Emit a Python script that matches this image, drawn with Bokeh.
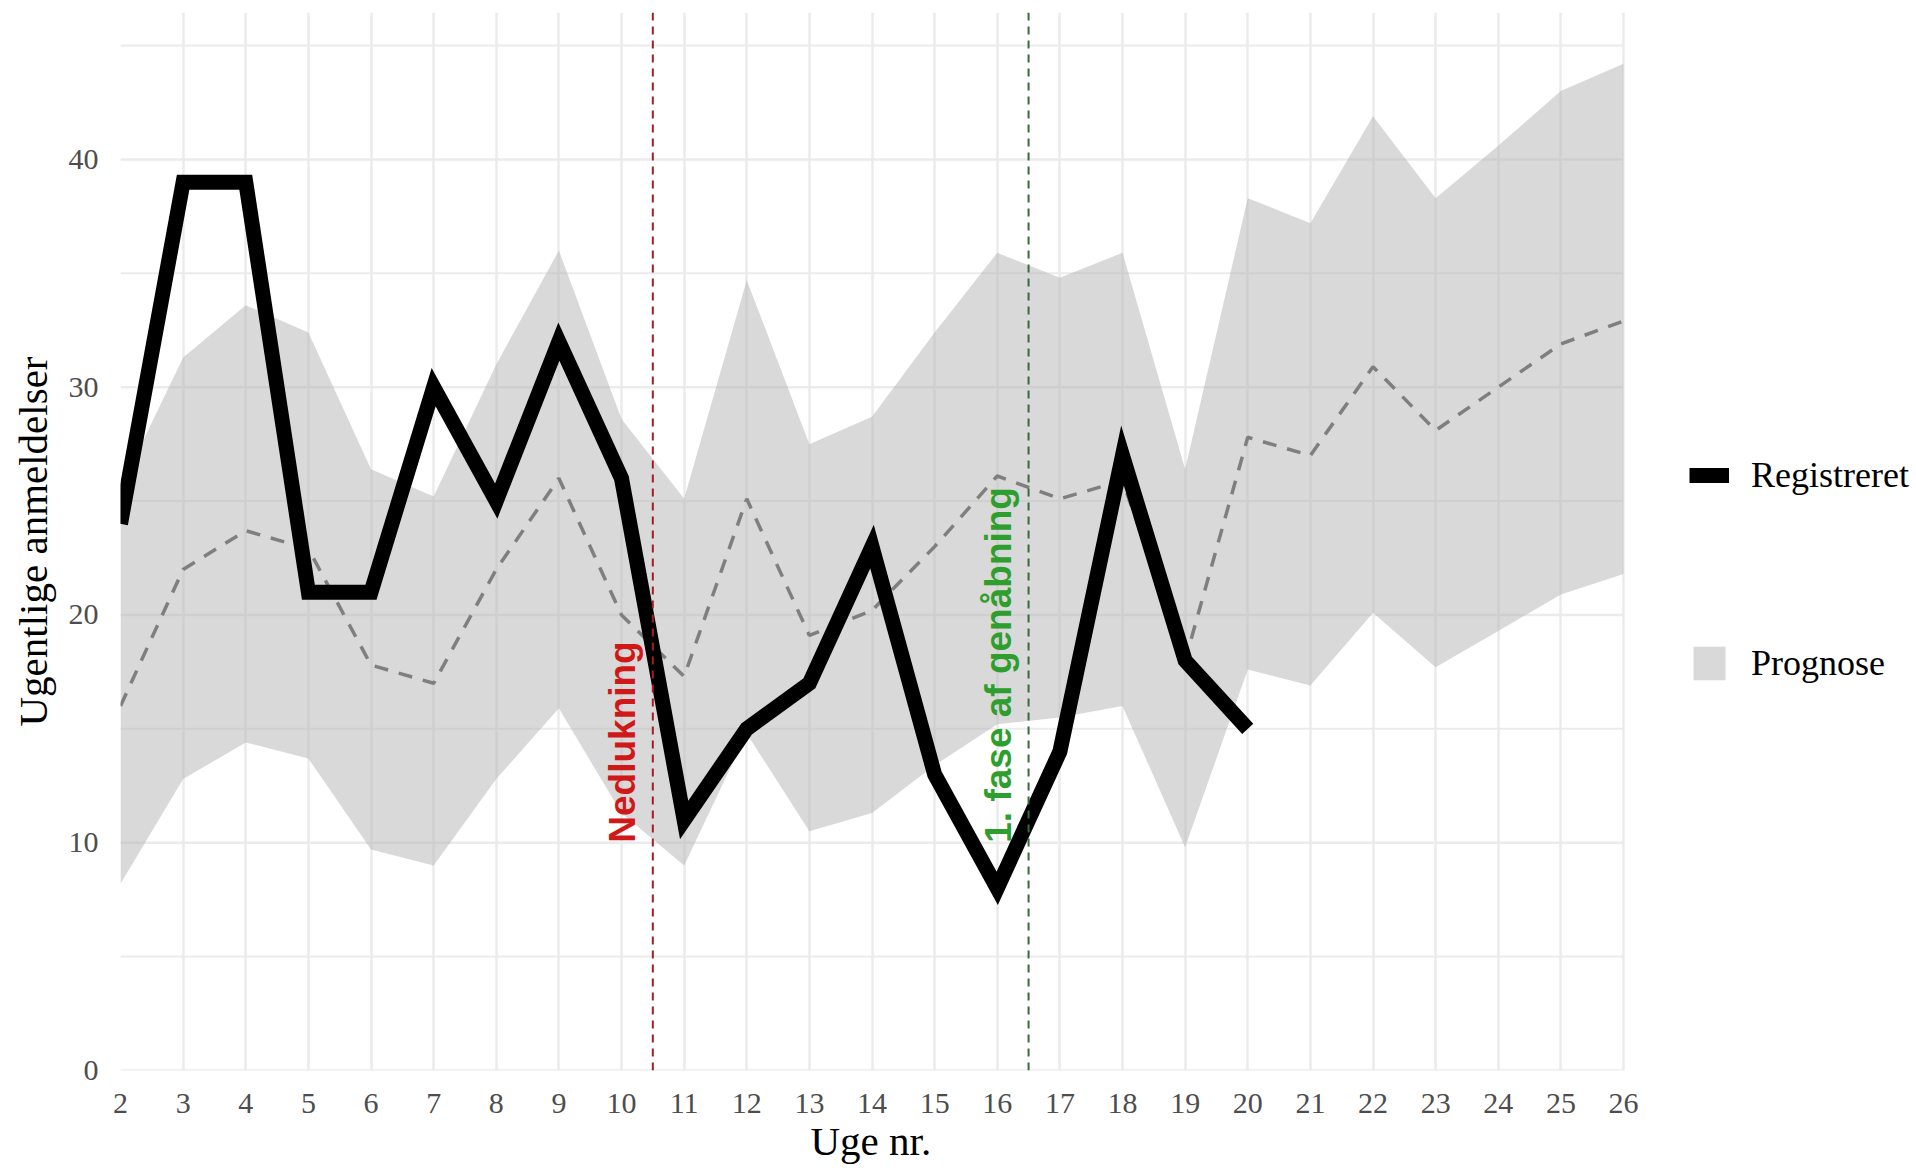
from bokeh.plotting import figure
from bokeh.models import (ColumnDataSource, FixedTicker, Legend, LegendItem,
                          Span, Range1d, Title)
from bokeh.transform import dodge
from bokeh.core.properties import value
from bokeh.embed import file_html
from bokeh.resources import INLINE
import math

# ---------------- data ----------------
weeks_reg = [2, 3, 4, 5, 6, 7, 8, 9, 10, 11, 12, 13, 14, 15, 16, 17, 18, 19, 20]
registreret = [24, 39, 39, 21, 21, 30, 25, 32, 26, 11, 15, 17, 23, 13, 8, 14, 27, 18, 15]

weeks_prog = [2, 3, 4, 5, 6, 7, 8, 9, 10, 11, 12, 13, 14, 15, 16, 17, 18, 19, 20,
              21, 22, 23, 24, 25, 26]
prognose = [16, 22, 23.7, 22.9, 17.8, 17.0, 22, 26, 20, 17.3, 25.1, 19.1, 20.2, 23,
            26.1, 25.1, 25.9, 18, 27.8, 27.0, 30.9, 28.1, 30.0, 31.9, 32.9]
prog_upper = [25.6, 31.3, 33.6, 32.4, 26.4, 25.2, 31, 36, 28.6, 25.1, 34.7, 27.5,
              28.7, 32.4, 35.9, 34.8, 35.9, 26.4, 38.3, 37.2, 41.9, 38.3, 40.6, 43.0, 44.2]
prog_lower = [8.2, 12.8, 14.4, 13.7, 9.7, 9.0, 12.8, 15.9, 11.3, 9.0, 14.8, 10.5,
              11.3, 13.4, 15.2, 15.5, 16.0, 9.8, 17.6, 16.9, 20.1, 17.7, 19.3, 20.9, 21.8]

x_ticks = list(range(2, 27))
x_tick_labels = [str(w) for w in x_ticks]
y_ticks = [0, 10, 20, 30, 40]
y_tick_labels = ["0", "10", "20", "30", "40"]
y_minor = [5, 15, 25, 35, 45]

x_title = "Uge nr."
y_title = "Ugentlige anmeldelser"

event_weeks = [10.5, 16.5]
event_label_y = [10, 10]
event_labels = ["Nedlukning", "1. fase af genåbning"]
event_text_colors = ["#D01818", "#2E9E2E"]
event_line_colors = ["#A02020", "#3A6A3A"]

series_names = ["Registreret", "Prognose"]

# ---------------- figure ----------------
serif = "Liberation Serif"
sans = "Liberation Sans"
px_per_week = 62.625
x_end = x_ticks[-1] + (1916 - 1623) / px_per_week   # room for the legend

p = figure(width=1916, height=1171,
           x_range=Range1d(x_ticks[0], x_end), y_range=Range1d(0, 46.45),
           output_backend="svg", toolbar_location=None,
           min_border_left=120, min_border_right=0,
           min_border_top=12, min_border_bottom=101)
p.outline_line_color = None
p.background_fill_color = "white"
p.border_fill_color = "white"

# axes
p.xaxis.ticker = FixedTicker(ticks=x_ticks)
p.xaxis.major_label_overrides = {t: l for t, l in zip(x_ticks, x_tick_labels)}
p.yaxis.ticker = FixedTicker(ticks=y_ticks, minor_ticks=y_minor)
p.yaxis.major_label_overrides = {t: l for t, l in zip(y_ticks, y_tick_labels)}

for ax in (p.xaxis, p.yaxis):
    ax.axis_line_color = None
    ax.major_tick_line_color = None
    ax.minor_tick_line_color = None
    ax.major_tick_out = 0
    ax.major_tick_in = 0
    ax.minor_tick_out = 0
    ax.minor_tick_in = 0
    ax.major_label_text_font = serif
    ax.major_label_text_font_size = "30px"
    ax.major_label_text_color = "#4D4D4D"
    ax.axis_label_text_font = serif
    ax.axis_label_text_font_size = "41px"
    ax.axis_label_text_font_style = "normal"
    ax.axis_label_text_color = "black"

p.yaxis.axis_label = y_title
p.xaxis.major_label_standoff = 23
p.yaxis.major_label_standoff = 22
p.yaxis.axis_label_standoff = 10

# x-axis title centred under the week 2..26 span (the frame also holds the legend)
p.add_layout(Title(text=x_title, align="left", offset=690, standoff=0,
                   text_font=serif, text_font_size="41px",
                   text_font_style="normal", text_color="black"), "below")

# grid: vertical lines from the grid, horizontal lines only across the data area
p.xgrid.ticker = FixedTicker(ticks=x_ticks)
p.xgrid.grid_line_color = "#EBEBEB"
p.xgrid.grid_line_width = 2.5
p.ygrid.grid_line_color = None

p.segment(x0=[x_ticks[0]] * len(y_ticks), x1=[x_ticks[-1]] * len(y_ticks),
          y0=y_ticks, y1=y_ticks, line_color="#EBEBEB", line_width=2.5,
          level="underlay")
p.segment(x0=[x_ticks[0]] * len(y_minor), x1=[x_ticks[-1]] * len(y_minor),
          y0=y_minor, y1=y_minor, line_color="#EBEBEB", line_width=2.0,
          level="underlay")

# ---------------- glyphs ----------------
src_prog = ColumnDataSource(dict(x=weeks_prog, mid=prognose,
                                 lo=prog_lower, hi=prog_upper))
src_reg = ColumnDataSource(dict(x=weeks_reg, y=registreret))

band = p.varea(x="x", y1="lo", y2="hi", source=src_prog,
               fill_color="#B3B3B3", fill_alpha=0.5)

p.line(x="x", y="mid", source=src_prog, line_color="#7F7F7F",
       line_width=3.5, line_dash="14 11")

reg_line = p.line(x="x", y="y", source=src_reg, line_color="black",
                  line_width=15, line_join="miter", line_cap="butt")

for xv, col in zip(event_weeks, event_line_colors):
    p.add_layout(Span(location=xv, dimension="height", line_color=col,
                      line_width=2, line_dash="8 6"))

src_ev = ColumnDataSource(dict(x=event_weeks, y=event_label_y, text=event_labels,
                               color=event_text_colors))
p.text(x=dodge("x", -0.48, range=p.x_range), y="y", text="text", source=src_ev,
       angle=math.pi / 2, text_color="color",
       text_font=value(sans), text_font_style="bold",
       text_font_size="37px", text_align="left",
       text_baseline="middle")

# ---------------- legend ----------------
legend = Legend(items=[LegendItem(label=series_names[0], renderers=[reg_line]),
                       LegendItem(label=series_names[1], renderers=[band])],
                location=(1569, 386), orientation="vertical")
legend.background_fill_alpha = 0
legend.border_line_color = None
legend.padding = 0
legend.margin = 0
legend.spacing = 146
legend.glyph_width = 40
legend.glyph_height = 42
legend.label_height = 42
legend.label_standoff = 22
legend.label_text_font = serif
legend.label_text_font_size = "36px"
legend.label_text_color = "black"
p.add_layout(legend, "center")

open("out.html", "w").write(file_html(p, INLINE))
